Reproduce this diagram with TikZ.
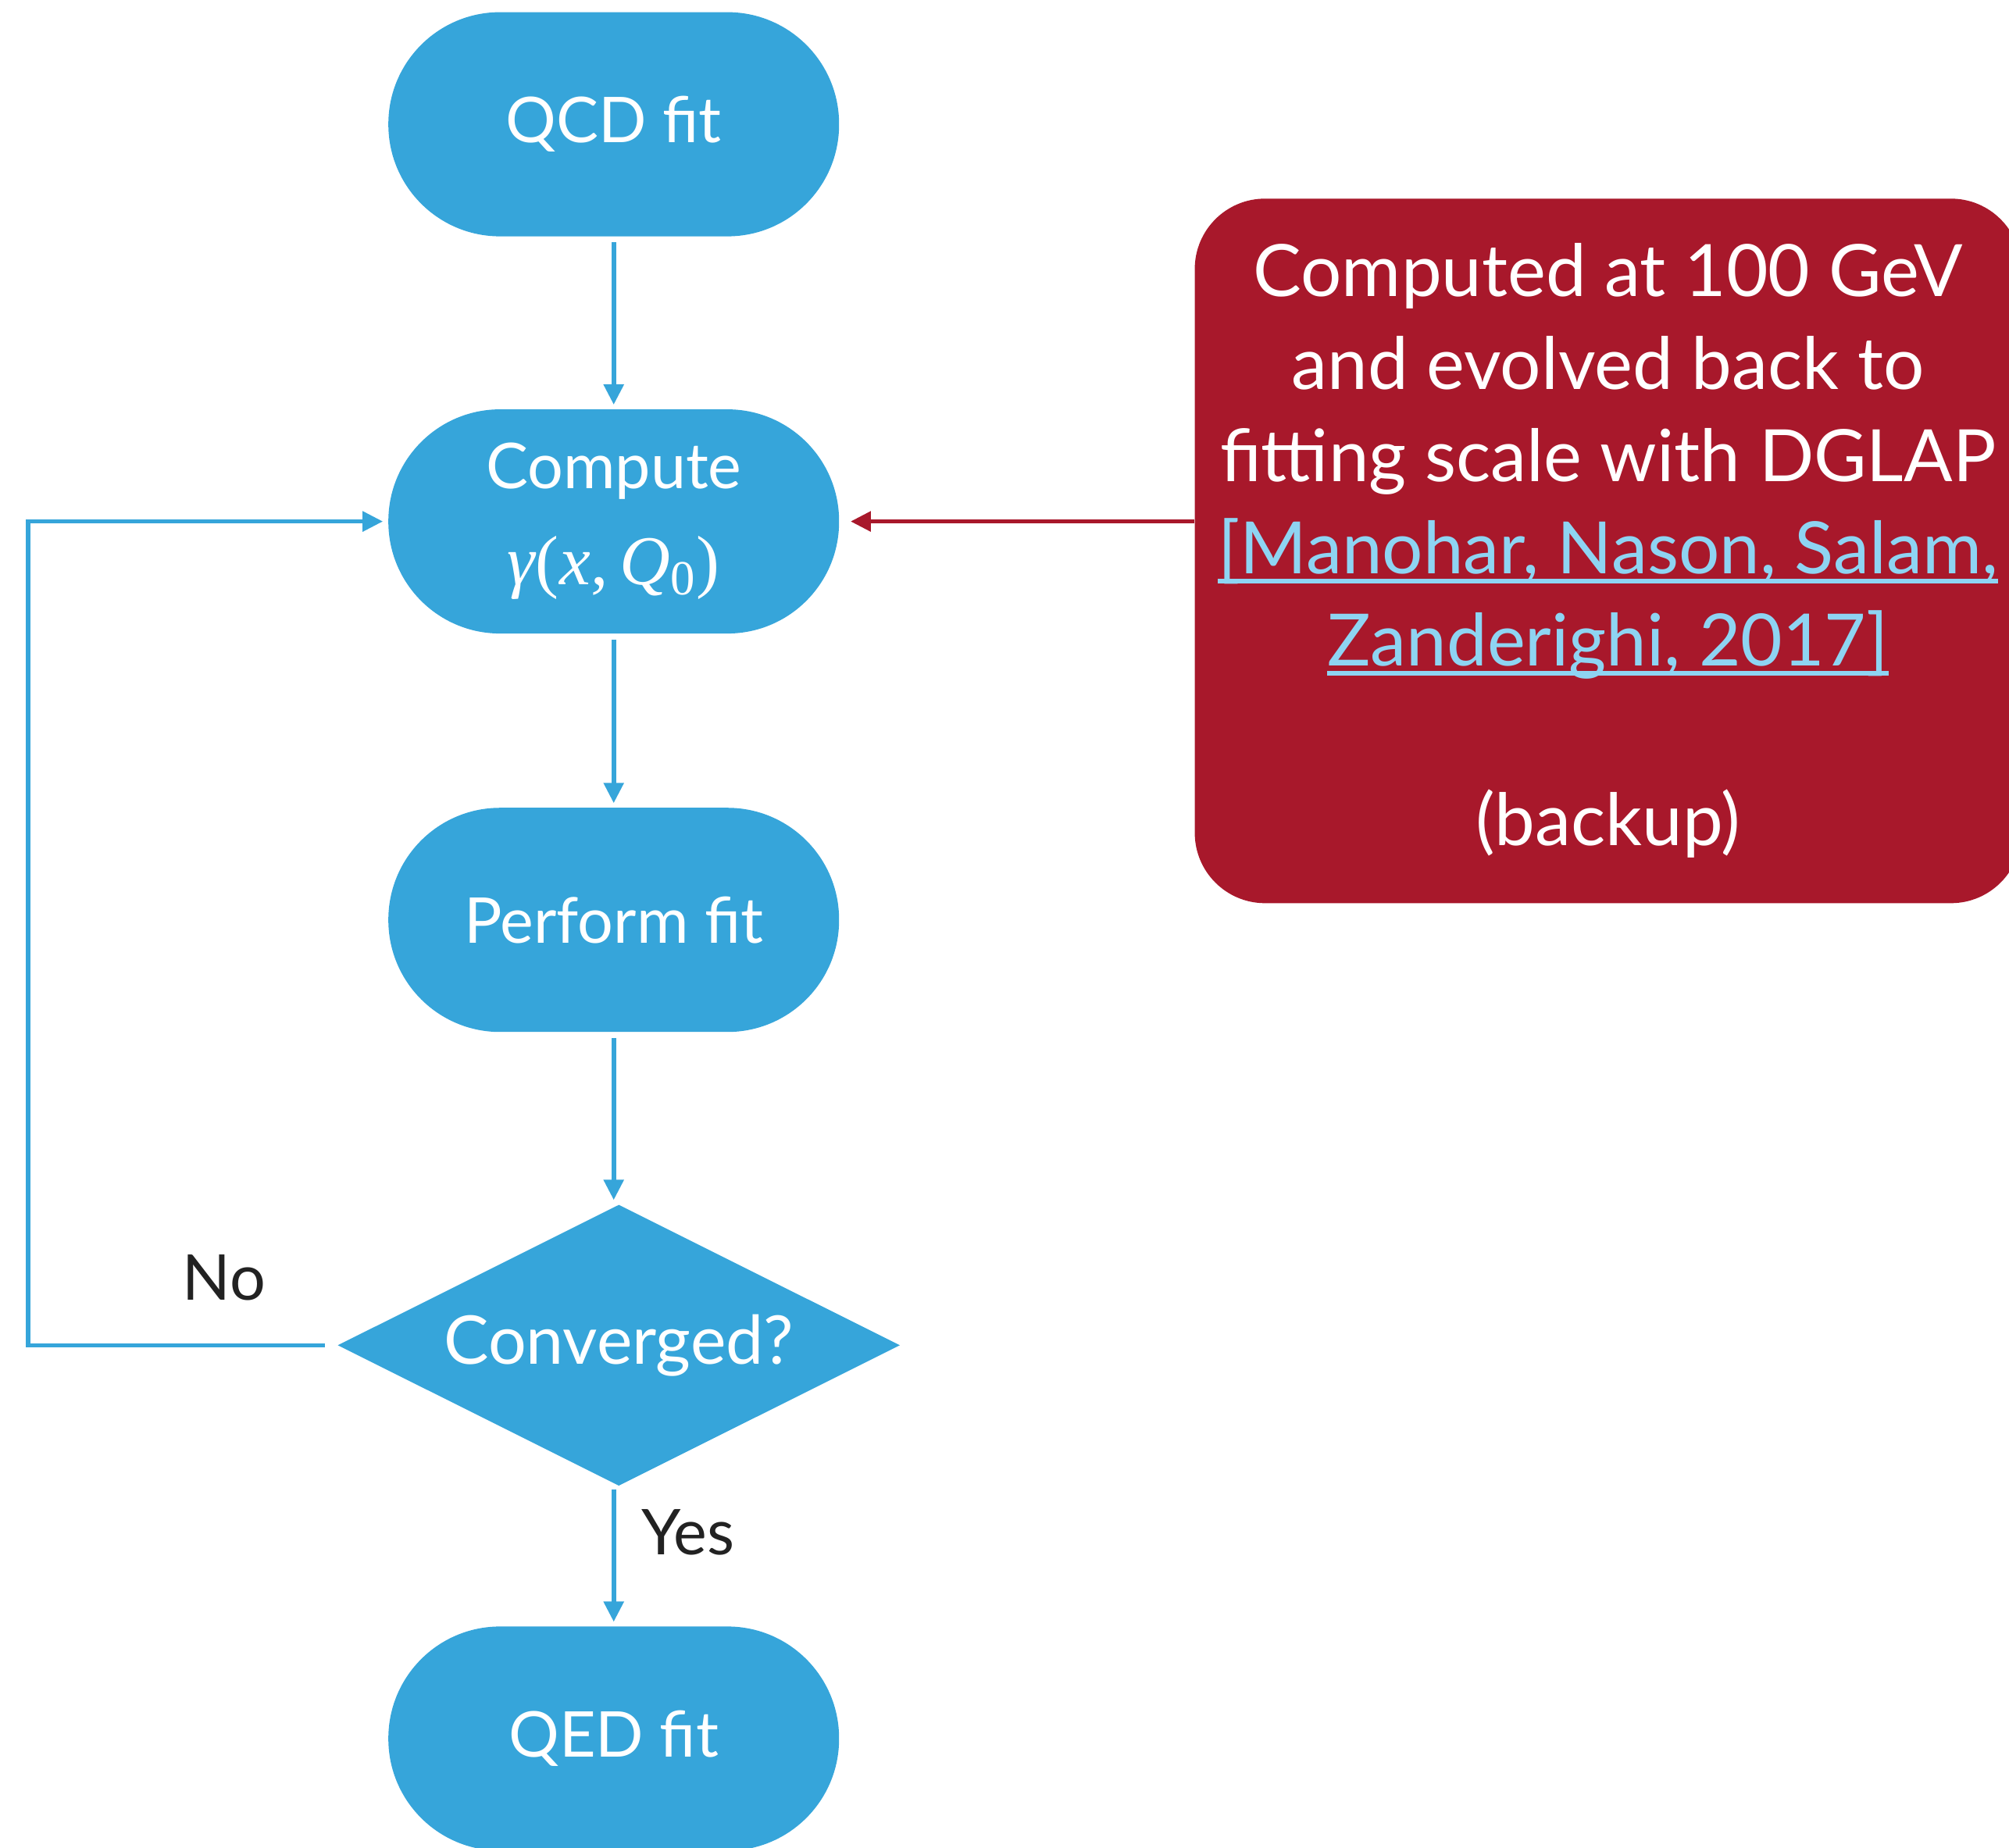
\documentclass[tikz,border=0pt]{standalone}
\usepackage{fontspec}
\setmainfont{Lato}
\newfontfamily\mathserif{Liberation Serif}
\usetikzlibrary{shapes.geometric,arrows.meta}
\definecolor{flowblue}{RGB}{54,165,218}
\definecolor{backupred}{RGB}{168,24,43}
\definecolor{linkblue}{RGB}{142,212,242}
\definecolor{labelgray}{RGB}{34,34,34}
\newcommand\linkline[1]{\sbox0{#1}\rlap{\usebox0}\rule[-0.14em]{\wd0}{0.07em}}
\begin{document}
\begin{tikzpicture}[x=0.0164cm,y=-0.0164cm,
    stadium/.style={fill=flowblue, text=white, rounded corners=1.43cm,
        minimum width=5.77cm, minimum height=2.87cm, align=center,
        font=\fontsize{23}{35}\selectfont},
    decision/.style={diamond, fill=flowblue, text=white, aspect=2,
        minimum width=7.2cm, minimum height=3.6cm, inner sep=0pt,
        font=\fontsize{24.5}{35}\selectfont},
    flow/.style={draw=flowblue, line width=1.6pt,
        -{Triangle[length=0.26cm,width=0.25cm]}},
    answer/.style={text=labelgray, font=\fontsize{23}{34}\selectfont}]
    \useasboundingbox (0,0) rectangle (1568,1442);

    \node[stadium] (qcd) at (479,97) {QCD fit};
    \node[stadium] (compute) at (479,407) {Compute\\
        {\fontsize{25.5}{31}\selectfont\mathserif{\itshape γ}(\kern0.02em{\itshape x},\,{\itshape Q}\textsubscript{0})}};
    \node[stadium] (perform) at (479,718) {Perform fit};
    \node[decision] (conv) at (483,1050) {Converged?};
    \node[stadium] (qed) at (479,1357) {QED fit};

    \node[fill=backupred, text=white, rounded corners=0.9cm,
        minimum width=10.58cm, minimum height=9.02cm, align=center,
        font=\fontsize{26.3}{33.6}\selectfont] (backup) at (1255,430)
        {Computed at 100 GeV\\
        and evolved back to\\
        fitting scale with DGLAP\\
        \textcolor{linkblue}{\linkline{[Manohar, Nason, Salam,}}\\
        \textcolor{linkblue}{\linkline{Zanderighi, 2017]}}\\[32pt]
        (backup)};

    \coordinate (loopdown) at (22,1050);
    \coordinate (loopup) at (22,407);

    \draw[flow, shorten <=2pt, shorten >=1.5pt] (qcd.south) -- (compute.north);
    \draw[flow, shorten <=2pt, shorten >=1.5pt] (compute.south) -- (perform.north);
    \draw[flow, shorten <=2pt, shorten >=1.5pt] (perform.south) -- (perform.south |- conv.north);
    \draw[flow, shorten <=1pt, shorten >=1.5pt] (qcd.south |- conv.south) -- (qed.north)
        node[answer, pos=0.33, right=6pt] {Yes};
    \draw[flow, shorten >=1.8pt] ([xshift=-4.5pt]conv.west) -- (loopdown) -- (loopup) -- (compute.west);
    \draw[flow, draw=backupred, fill=backupred, shorten >=4pt]
        (backup.west |- compute.east) -- (compute.east);
    \node[answer] (no) at (175,997) {No};
\end{tikzpicture}
\end{document}
